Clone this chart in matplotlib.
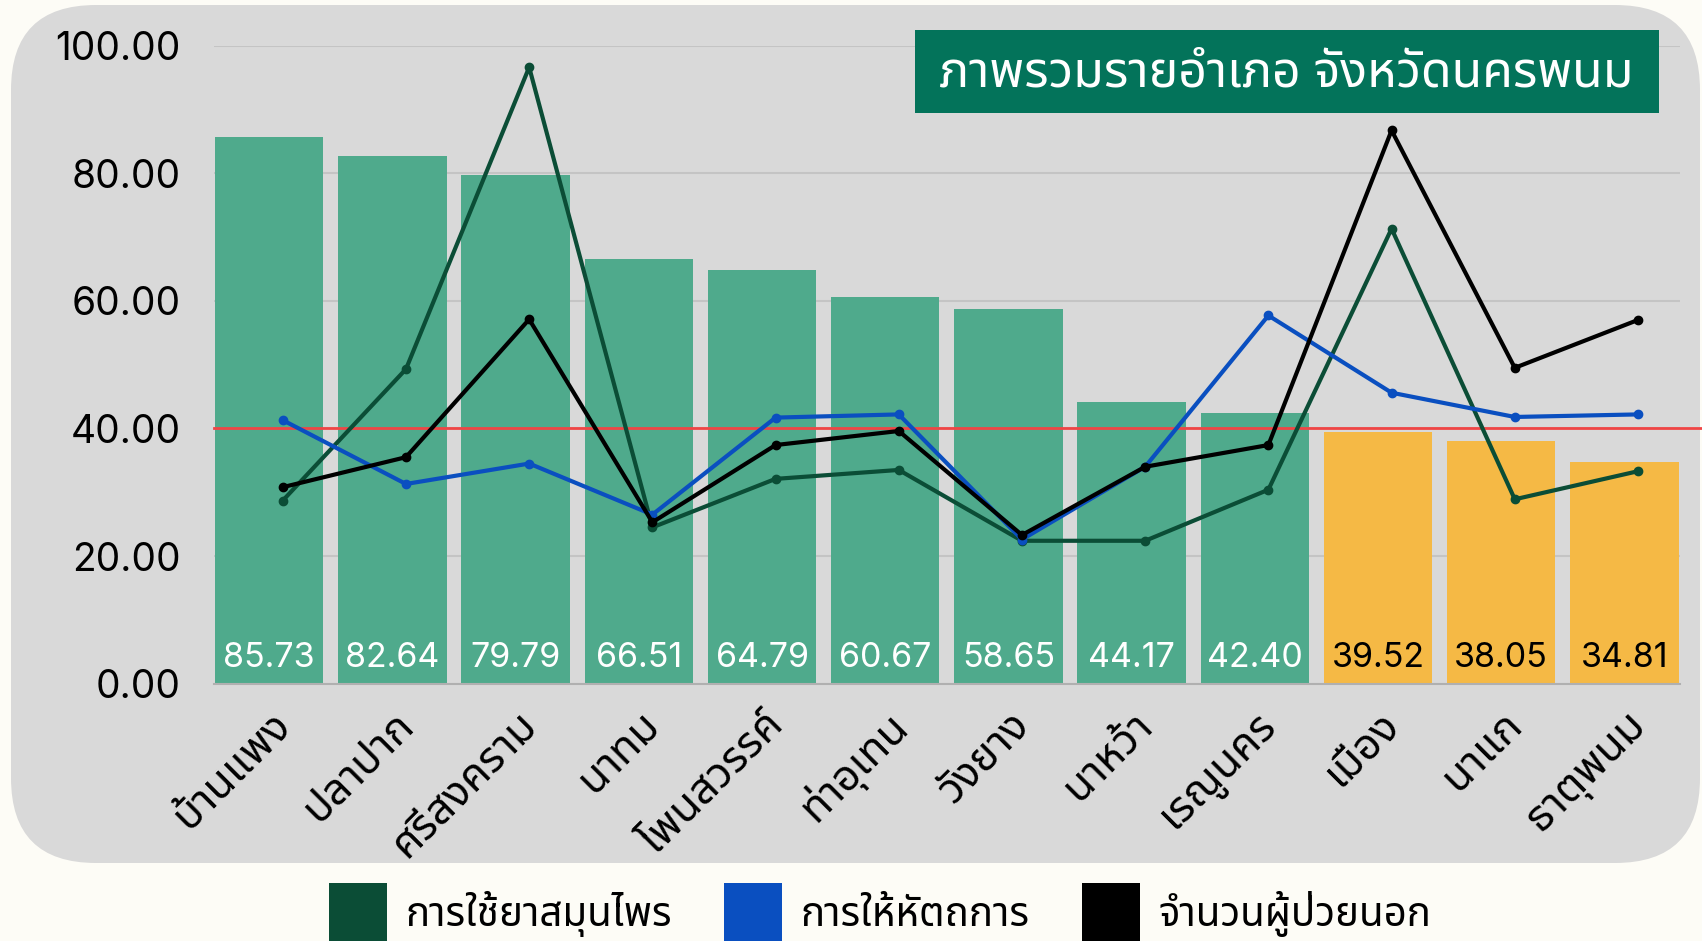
import numpy as np
import matplotlib.pyplot as plt
from matplotlib import font_manager, ft2font
from matplotlib.patches import FancyBboxPatch, Rectangle, Patch
from matplotlib.transforms import IdentityTransform


def find_thai_font():
    names = []
    for f in font_manager.fontManager.ttflist:
        try:
            cmap = ft2font.FT2Font(f.fname).get_charmap()
        except Exception:
            continue
        if 0x0E01 in cmap and 0x0E49 in cmap:
            names.append(f.name)
    for pref in ["Noto Sans Thai", "Noto Sans Thai Looped", "Loma", "Garuda", "Sarabun", "Kanit"]:
        if pref in names:
            return pref
    return names[0] if names else "DejaVu Sans"


thai = find_thai_font()
plt.rcParams["font.family"] = ["Inter", thai, "DejaVu Sans"]

districts = ["บ้านแพง", "ปลาปาก", "ศรีสงคราม", "นาทม", "โพนสวรรค์", "ท่าอุเทน",
             "วังยาง", "นาหว้า", "เรณูนคร", "เมือง", "นาแก", "ธาตุพนม"]
overall = [85.73, 82.64, 79.79, 66.51, 64.79, 60.67, 58.65, 44.17, 42.40, 39.52, 38.05, 34.81]
herbal = [28.7, 49.3, 96.6, 24.5, 32.1, 33.5, 22.4, 22.4, 30.4, 71.3, 28.9, 33.3]
treatment = [41.3, 31.3, 34.5, 26.5, 41.7, 42.2, 22.6, 34.0, 57.7, 45.6, 41.8, 42.2]
outpatients = [30.8, 35.5, 57.1, 25.3, 37.4, 39.6, 23.3, 34.0, 37.4, 86.7, 49.5, 57.0]
target = 40
title = "ภาพรวมรายอำเภอ จังหวัดนครพนม"
legend_labels = ["การใช้ยาสมุนไพร", "การให้หัตถการ", "จำนวนผู้ป่วยนอก"]

bg = "#fdfcf6"
panel = "#d9d9d9"
bar_green = "#4faa8c"
bar_yellow = "#f5b945"
c_herbal = "#0b4d36"
c_treat = "#0a4fc0"
c_opd = "#000000"

fig = plt.figure(figsize=(17.02, 9.41), dpi=100)
fig.patch.set_facecolor(bg)

# rounded grey panel behind the chart (pixel coords)
fig.patches.append(FancyBboxPatch((11, 78), 1689, 858,
                                  boxstyle="round,pad=0,rounding_size=85",
                                  transform=IdentityTransform(), facecolor=panel,
                                  edgecolor="none", zorder=-1))

ax = fig.add_axes([0.1256, 0.2734, 0.8614, 0.6782])
ax.set_facecolor("none")

x = np.arange(len(districts))
colors = [bar_green if v >= target else bar_yellow for v in overall]
ax.bar(x, overall, width=0.88, color=colors, zorder=2)

for xi, v in zip(x, overall):
    ax.text(xi, 4, f"{v:.2f}", ha="center", va="center", fontsize=24.5,
            color="white" if v >= target else "black", zorder=6)

xl = x + 0.11
ax.plot(xl, herbal, color=c_herbal, lw=3, marker="o", ms=6, zorder=3)
ax.plot(xl, treatment, color=c_treat, lw=3, marker="o", ms=6, zorder=4)
ax.plot(xl, outpatients, color=c_opd, lw=3, marker="o", ms=6, zorder=5)

ax.axhline(target, xmax=1.015, color="#f04545", lw=2, zorder=2.5, clip_on=False)

ax.set_xlim(-0.45, 11.45)
ax.set_ylim(0, 100)
ax.set_yticks(np.arange(0, 101, 20))
ax.set_yticklabels([f"{v:.2f}" for v in np.arange(0, 101, 20)], fontsize=28)
ax.yaxis.grid(True, color="#c4c4c4", lw=1.5, zorder=1)
ax.set_axisbelow(True)
ax.tick_params(axis="y", length=0, pad=24)
ax.tick_params(axis="x", length=0, pad=14)
ax.set_xticks(x)
ax.set_xticklabels(districts, rotation=45, ha="right", va="top",
                   rotation_mode="anchor", fontsize=31, family=[thai, "DejaVu Sans"])
for s in ["top", "right", "left"]:
    ax.spines[s].set_visible(False)
ax.spines["bottom"].set_color("#b0b0b0")
ax.spines["bottom"].set_linewidth(1.5)

# title box
fig.patches.append(Rectangle((0.5376, 0.880), 0.4369, 0.088, transform=fig.transFigure,
                             facecolor="#03735a", edgecolor="none", zorder=3))
fig.text(0.756, 0.922, title, ha="center", va="center", fontsize=36, fontweight="bold",
         color="white", family=[thai, "DejaVu Sans"], zorder=4)

handles = [Patch(facecolor=c, edgecolor="none") for c in [c_herbal, c_treat, c_opd]]
fig.legend(handles, legend_labels, loc="center", bbox_to_anchor=(0.517, 0.029), ncol=3,
           frameon=False, handlelength=1.45, handleheight=2.0,
           handletextpad=0.45, columnspacing=1.3, prop={"family": [thai, "DejaVu Sans"], "size": 29})

fig.savefig("out.png", dpi=100, facecolor=bg)
